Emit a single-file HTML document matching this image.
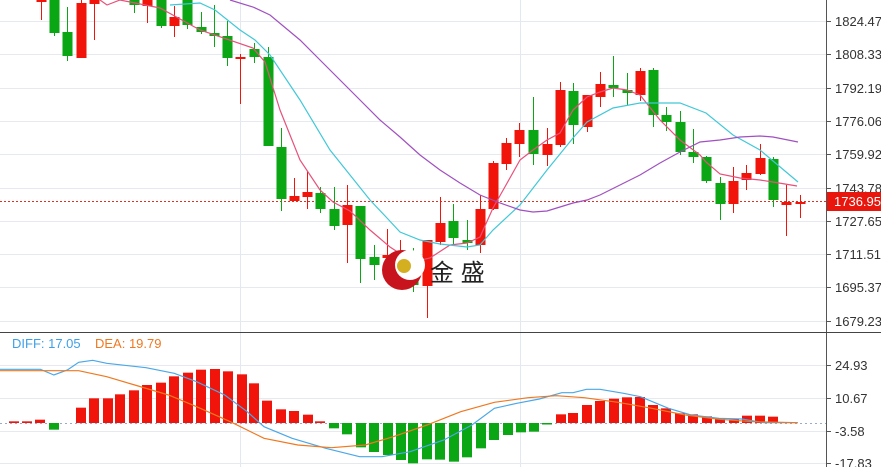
<!DOCTYPE html>
<html><head><meta charset="utf-8"><style>
html,body{margin:0;padding:0;background:#fff;width:881px;height:467px;overflow:hidden}
svg{display:block;font-family:"Liberation Sans","Noto Sans CJK SC",sans-serif}
</style></head><body>
<svg id="s" width="881" height="467" viewBox="0 0 881 467" xmlns="http://www.w3.org/2000/svg">
<rect width="881" height="467" fill="#fff"/>
<g id="grid" stroke="#e6e9ee" stroke-width="1"></g>
<line x1="240.5" y1="0" x2="240.5" y2="467" stroke="#e3e8ef"/>
<line x1="520.5" y1="0" x2="520.5" y2="467" stroke="#e3e8ef"/>
<line x1="826.5" y1="0" x2="826.5" y2="467" stroke="#555"/>
<line x1="0" y1="332.5" x2="881" y2="332.5" stroke="#444"/>
<line x1="0" y1="201.5" x2="826" y2="201.5" stroke="#e03020" stroke-dasharray="2,2"/>
<line x1="0" y1="423.5" x2="826" y2="423.5" stroke="#9ac" stroke-dasharray="2,3"/>
<g id="c"></g>
<g id="ax" font-size="13" fill="#333"></g>
<rect x="827" y="192" width="54" height="19" fill="#e8160c"/>
<text x="834" y="206" font-size="13" fill="#fff">1736.95</text>
<text x="12" y="348" font-size="13" fill="#3ca0e8">DIFF: 17.05</text>
<text x="95" y="348" font-size="13" fill="#f07820">DEA: 19.79</text>
<circle cx="402" cy="270" r="20" fill="#c8141c"/>
<circle cx="410" cy="265" r="15" fill="#fff"/>
<circle cx="404" cy="266" r="7" fill="#d4b020"/>
<text x="430" y="281" font-size="24" fill="#222">金 盛</text>
</svg>
<script>
const NS="http://www.w3.org/2000/svg",g=document.getElementById('c'),gr=document.getElementById('grid'),ax=document.getElementById('ax');
function el(p,t,a){const e=document.createElementNS(NS,t);for(const k in a)e.setAttribute(k,a[k]);p.appendChild(e);return e}
const py=[["1824.47",21],["1808.33",54],["1792.19",88],["1776.06",121],["1759.92",154],["1743.78",188],["1727.65",221],["1711.51",254],["1695.37",287],["1679.23",321]];
py.forEach(([t,y])=>{el(gr,'line',{x1:0,x2:826,y1:y+.5,y2:y+.5});el(ax,'line',{x1:826,x2:831,y1:y+.5,y2:y+.5,stroke:'#555'});const e=el(ax,'text',{x:835,y:y+5});e.textContent=t});
[["24.93",365],["10.67",398],["-3.58",431],["-17.83",463]].forEach(([t,y])=>{el(gr,'line',{x1:0,x2:826,y1:y+.5,y2:y+.5});el(ax,'line',{x1:826,x2:831,y1:y+.5,y2:y+.5,stroke:'#555'});const e=el(ax,'text',{x:835,y:y+5});e.textContent=t});
const R="#f0140a",G="#0aa614";
const C=[[41,'r',0,0,0,20],[54,'g',0,33,0,36],[67,'g',32,56,7,61],[81,'r',3,58,0,58],[94,'r',0,4,0,40],[134,'g',0,5,0,13],[147,'r',0,6,0,23],[161,'g',0,26,0,28],[174,'r',17,26,6,37],[187,'g',0,25,0,29],[201,'g',27,32,12,34],[214,'g',33,36,5,47],[227,'g',36,58,21,66],[240,'r',57,58,54,104],[254,'g',49,57,43,63],[268,'g',57,146,47,146],[281,'g',147,199,128,211],[294,'r',196,201,178,201],[307,'r',192,197,171,209],[320,'g',193,209,187,213],[334,'g',209,226,187,230],[347,'r',205,225,185,263],[360,'g',206,259,206,283],[374,'g',257,265,245,280],[387,'r',255,258,229,262],[400,'r',257,260,240,265],[413,'g',256,285,248,292],[427,'r',240,286,240,318],[440,'r',223,242,197,245],[453,'g',221,238,204,244],[467,'g',240,243,220,250],[480,'r',209,245,195,253],[493,'r',163,209,161,210],[506,'r',143,164,138,170],[519,'r',130,144,123,157],[533,'g',130,154,97,165],[547,'r',144,155,128,166],[560,'r',90,145,82,147],[573,'g',91,125,83,144],[587,'r',95,127,95,132],[600,'r',84,97,72,107],[613,'g',85,88,56,97],[627,'g',90,93,73,105],[640,'r',71,95,68,101],[653,'g',70,115,68,127],[666,'g',115,122,107,131],[680,'g',122,152,111,155],[693,'g',152,157,129,163],[706,'g',157,181,156,183],[720,'g',183,204,177,220],[733,'r',181,204,167,213],[746,'r',173,180,165,190],[760,'r',158,174,144,175],[773,'g',159,200,157,207],[786,'r',202,205,185,236],[800,'r',202,204,195,218]];
C.forEach(([x,c,a,b,h,l])=>{const col=c=='r'?R:G;el(g,'line',{x1:x+.5,x2:x+.5,y1:h,y2:l,stroke:col});el(g,'rect',{x:x-4.5,y:a,width:10,height:Math.max(2,b-a),fill:col})});
function pl(pts,col,sx=1,sy=1,oy=0){el(g,'polyline',{points:pts.map(p=>(p[0]/sx).toFixed(1)+','+(oy+p[1]/sy).toFixed(1)).join(' '),fill:'none',stroke:col,'stroke-width':1.2})}
pl([[100,0],[107,5],[120,0],[160,8],[200,30],[253,48],[265,62],[280,110],[300,160],[320,190],[333,202],[350,211],[370,230],[390,247],[413,262],[430,258],[450,245],[467,243],[480,237],[493,208],[506,185],[520,160],[533,150],[547,140],[560,133],[573,110],[587,97],[600,92],[613,88],[627,90],[640,95],[660,120],[680,140],[700,155],[706,162],[720,174],[740,178],[760,180],[773,182],[797,186]],'#e8507a');
pl([[170,5],[200,3],[215,10],[240,30],[255,40],[270,55],[300,100],[330,150],[350,175],[370,200],[387,218],[400,232],[420,240],[440,244],[467,247],[480,245],[493,230],[520,205],[547,170],[573,138],[587,122],[613,108],[640,103],[680,103],[706,113],[733,135],[760,150],[798,182]],'#40c8d8');
pl([[230,0],[253,7],[270,15],[300,40],[320,60],[340,80],[360,100],[380,120],[400,137],[420,155],[440,170],[460,183],[480,195],[500,203],[520,210],[533,212],[547,211],[560,207],[573,203],[587,200],[600,195],[620,185],[640,175],[660,163],[680,152],[700,142],[720,140],[740,137],[760,136],[773,137],[798,142]],'#a050c0');
const M=[[14,289],[27,289],[40,284],[54,314],[81,248],[94,220],[108,220],[120,208],[134,196],[147,180],[161,173],[174,154],[188,143],[201,134],[215,132],[228,139],[242,148],[254,175],[267,227],[281,253],[294,258],[308,269],[320,289],[334,310],[347,328],[361,367],[374,381],[388,390],[401,405],[413,415],[427,403],[440,404],[454,410],[467,397],[481,370],[494,345],[508,330],[521,322],[534,320],[547,295],[561,268],[573,264],[587,240],[600,228],[614,221],[627,217],[640,216],[653,240],[666,250],[680,265],[693,268],[707,274],[720,280],[734,283],[747,272],[760,272],[773,275]];
M.forEach(([x,zy])=>{const y=325+zy/3,z=423;el(g,'rect',{x:x-5,y:Math.min(y,z),width:10,height:Math.max(1.5,Math.abs(y-z)),fill:y<z?R:G})});
pl([[0,133],[72,133],[96,150],[120,135],[140,112],[165,106],[190,115],[260,128],[310,145],[350,170],[400,210],[440,260],[470,305],[520,340],[580,370],[640,395],[680,395],[730,380],[790,345],[840,300],[880,250],[920,235],[960,222],[1000,203],[1020,203],[1044,193],[1068,193],[1110,205],[1140,215],[1190,250],[1230,270],[1280,280],[1320,282],[1360,293],[1420,293]],'#4aa8e8',1.78,3,325);
pl([[0,137],[140,137],[190,155],[240,180],[300,210],[350,245],[410,290],[470,340],[530,360],[590,368],[650,360],[700,335],[760,300],[820,260],[880,232],[940,218],[990,212],[1040,218],[1100,232],[1160,250],[1220,270],[1280,283],[1340,290],[1420,293]],'#f07820',1.78,3,325);
</script>
</body></html>
